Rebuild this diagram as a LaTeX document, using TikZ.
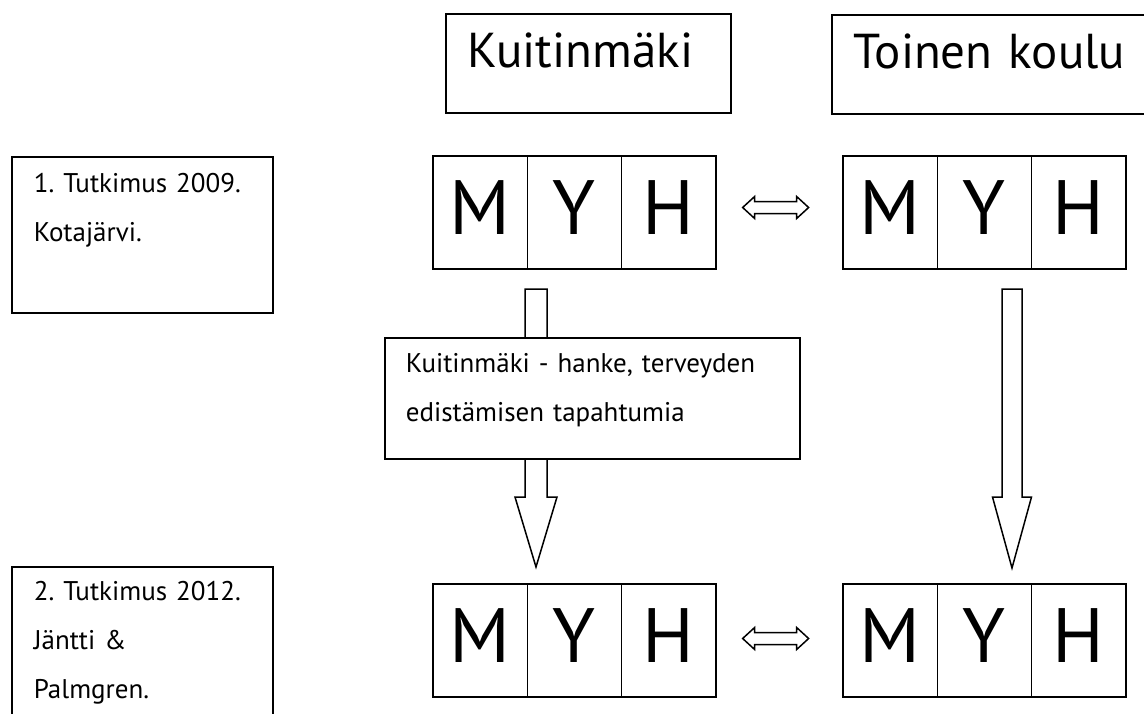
\documentclass[tikz,border=0pt]{standalone}
\usepackage{fontspec}
\setmainfont{PT Sans}[WordSpace=0.8]
\frenchspacing
\usetikzlibrary{positioning,calc}
\tikzset {
  every node/.style={font=\fontsize{27}{48.3}\selectfont},
  note/.style={draw, line width=1.6pt, anchor=north west, align=left,
    inner xsep=22pt, inner ysep=0pt},
  title/.style={note, font=\fontsize{49}{58}\selectfont,
    text height=54pt, text depth=45pt},
  cell/.style={draw, line width=1.6pt, outer sep=0pt, inner sep=0pt,
    minimum width=94.3pt, minimum height=113pt,
    text height=54pt, text depth=11pt, font=\fontsize{77}{77}\selectfont},
  blockarrow/.style={draw, line width=1.5pt, fill=white},
}

\begin{document}
\begin{tikzpicture}[x=1pt,y=-1pt]
  \useasboundingbox (0,0) rectangle (1144,713);

  % school headings
  \node[title, text width=241pt] (kuitin) at (445,13) {Kuitinmäki};
  \node[title, text width=330pt] (toinen) at (831,14) {Toinen koulu};

  % study notes
  \node[note, text width=217pt, text height=36pt, text depth=120pt] (study1) at (11,156)
    {1. Tutkimus 2009.\\Kotajärvi.};
  \node[note, text width=217pt, text height=34pt, text depth=170pt,
    font=\fontsize{27}{48.8}\selectfont] (study2) at (11,566)
    {2. Tutkimus 2012.\\Jäntti \&\\Palmgren.};

  % M Y H rows
  \node[cell] (m1) at (480.15,212.5) {M};
  \node[cell, right=0pt of m1] (y1) {Y};
  \node[cell, right=0pt of y1] (h1) {H};
  \node[cell] (m2) at (890.15,212.5) {M};
  \node[cell, right=0pt of m2] (y2) {Y};
  \node[cell, right=0pt of y2] (h2) {H};
  \node[cell] (m3) at (480.15,640.5) {M};
  \node[cell, right=0pt of m3] (y3) {Y};
  \node[cell, right=0pt of y3] (h3) {H};
  \node[cell] (m4) at (890.15,640.5) {M};
  \node[cell, right=0pt of m4] (y4) {Y};
  \node[cell, right=0pt of y4] (h4) {H};

  % comparison arrows
  \coordinate (cmp1) at ($(h1.east)!0.47!(m2.west)+(0,-5)$);
  \coordinate (cmp2) at ($(h3.east)!0.47!(m4.west)+(0,-2)$);
  \foreach \c in {cmp1,cmp2}
    \draw[blockarrow] (\c) ++(-33,0) -- ++(12,-11) -- ++(0,5) -- ++(42,0)
      -- ++(0,-5) -- ++(12,11) -- ++(-12,11) -- ++(0,-5) -- ++(-42,0)
      -- ++(0,5) -- cycle;

  % down arrows
  \coordinate (down1) at (536,289);
  \coordinate (down2) at (1012,289);
  \draw[blockarrow] (down1) ++(-11,0) -- ++(22,0) -- ++(0,208) -- ++(10,0)
    -- ++(-21,70) -- ++(-21,-70) -- ++(10,0) -- cycle;
  \draw[blockarrow] (down2) ++(-10,0) -- ++(20,0) -- ++(0,208) -- ++(9.5,0)
    -- ++(-19.5,71) -- ++(-19.5,-71) -- ++(9.5,0) -- cycle;

  % project box over the left arrow
  \node[note, fill=white, inner xsep=21pt, text width=373pt, text height=35pt,
    text depth=86pt] (project) at (384,337)
    {Kuitinmäki - hanke, terveyden\\edistämisen tapahtumia};
\end{tikzpicture}
\end{document}
